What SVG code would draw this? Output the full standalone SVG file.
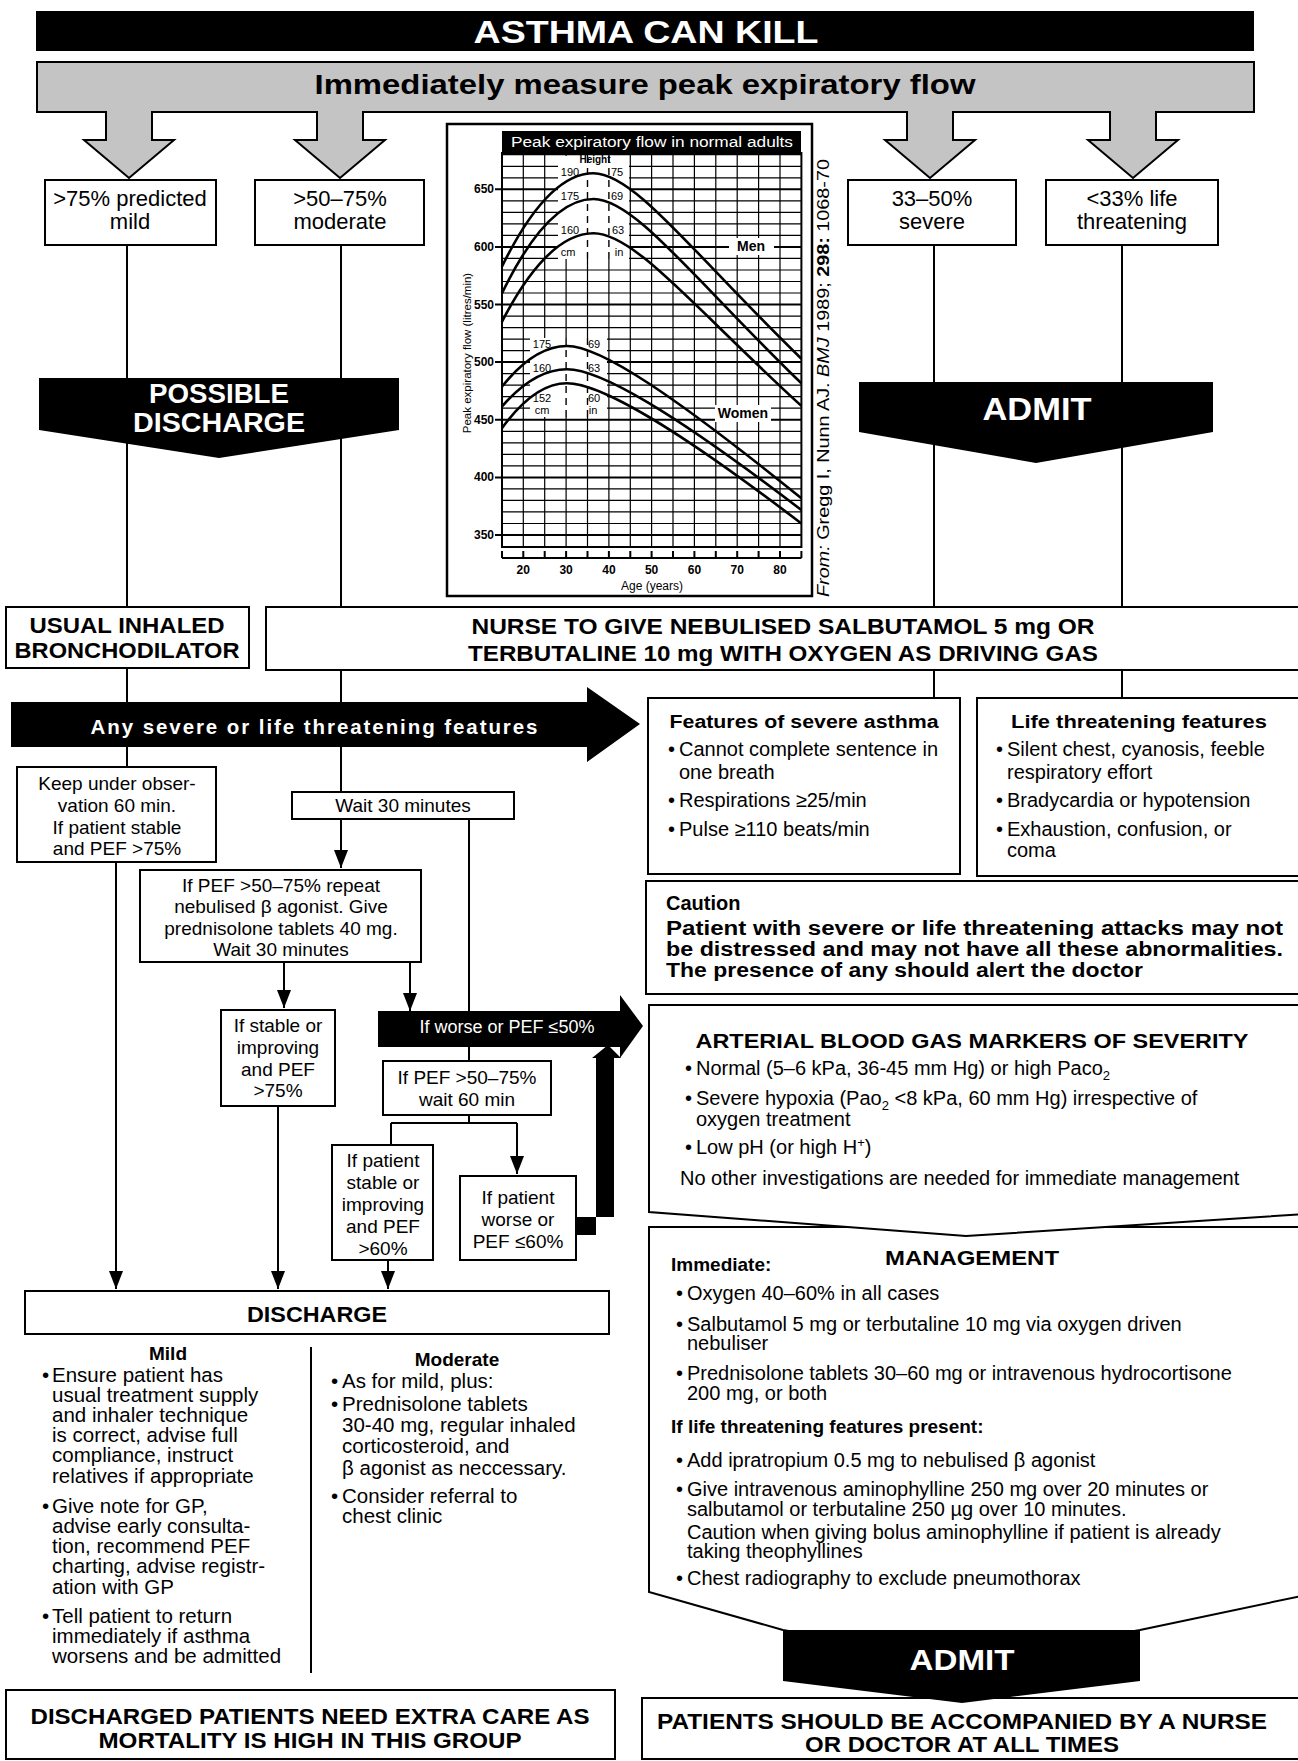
<svg xmlns="http://www.w3.org/2000/svg" width="1298" height="1761" viewBox="0 0 1298 1761">
<defs>
<style>
text{font-family:"Liberation Sans",Arial,sans-serif;fill:#000}
.t{font-size:19px}
.r{font-size:20px}
.d{font-size:20.5px}
.c{text-anchor:middle}
.b{font-weight:bold}
.w{fill:#fff}
.box{fill:#fff;stroke:#000;stroke-width:2}
.blk{fill:#000;stroke:none}
.ln{stroke:#000;stroke-width:2;fill:none}
.g1{stroke:#000;stroke-width:1.2;fill:none}
.g2{stroke:#000;stroke-width:2;fill:none}
.cv{stroke:#000;stroke-width:2.6;fill:none}
.ck{font-size:11px}
.ax{font-size:12px;font-weight:bold}
.hd{font-size:22px;font-weight:bold}
</style>
<marker id="ah" viewBox="0 0 18 14" refX="18" refY="7" markerWidth="18" markerHeight="14" markerUnits="userSpaceOnUse" orient="auto"><path d="M0,0 L18,7 L0,14 z" fill="#000"/></marker>
</defs>
<rect width="1298" height="1761" fill="#fff"/>

<g id="connectors">
<path class="ln" d="M127 245V607M341 245V607M934 245V607M1122 245V607"/>
<path class="ln" d="M127 668V702M341 670V702M934 670V698M1122 670V698"/>
<path class="ln" d="M127 747V767M341 747V792"/>
<path class="ln" d="M116 862V1289" marker-end="url(#ah)"/>
<path class="ln" d="M341 819V868" marker-end="url(#ah)"/>
<path class="ln" d="M469 819V1011"/>
<path class="ln" d="M284 962V1008" marker-end="url(#ah)"/>
<path class="ln" d="M410 962V1011" marker-end="url(#ah)"/>
<path class="ln" d="M469 1046V1061"/>
<path class="ln" d="M278 1106V1289" marker-end="url(#ah)"/>
<path class="ln" d="M469 1115V1123M391 1123H517M391 1123V1145"/>
<path class="ln" d="M517 1123V1174" marker-end="url(#ah)"/>
<path class="ln" d="M388 1260V1289" marker-end="url(#ah)"/>
<path class="blk" d="M576 1217H614V1058H621L608 1045L592 1058H596V1235H576Z"/>
</g>

<g id="title">
<rect x="36" y="11" width="1218" height="40" fill="#000"/>
<text x="646" y="43" class="c b w" font-size="32" textLength="345" lengthAdjust="spacingAndGlyphs">ASTHMA CAN KILL</text>
</g>

<g id="measure">
<path d="M37 62H1254V112H1156V140H1178L1133 178L1088 140H1110V112H953V140H975L930 178L885 140H907V112H363V140H385L340 178L295 140H317V112H152V140H174L129 178L84 140H106V112H37Z" fill="#c4c4c4" stroke="#000" stroke-width="2"/>
<text x="645" y="94" class="c b" font-size="28" fill="#111" textLength="661" lengthAdjust="spacingAndGlyphs">Immediately measure peak expiratory flow</text>
</g>

<g id="mild">
<rect class="box" x="45" y="180" width="171" height="65"/>
<text x="130" y="206" class="c" font-size="22">&gt;75% predicted</text>
<text x="130" y="229" class="c" font-size="22">mild</text>
</g>
<g id="moderate">
<rect class="box" x="255" y="180" width="169" height="65"/>
<text x="340" y="206" class="c" font-size="22">&gt;50–75%</text>
<text x="340" y="229" class="c" font-size="22">moderate</text>
</g>
<g id="severe">
<rect class="box" x="848" y="180" width="168" height="65"/>
<text x="932" y="206" class="c" font-size="22">33–50%</text>
<text x="932" y="229" class="c" font-size="22">severe</text>
</g>
<g id="life">
<rect class="box" x="1046" y="180" width="172" height="65"/>
<text x="1132" y="206" class="c" font-size="22">&lt;33% life</text>
<text x="1132" y="229" class="c" font-size="22">threatening</text>
</g>

<g id="possible-discharge">
<path class="blk" d="M39 378H399V430L219 458L39 430Z"/>
<text x="219" y="403" class="c b w" font-size="27" textLength="140" lengthAdjust="spacingAndGlyphs">POSSIBLE</text>
<text x="219" y="432" class="c b w" font-size="27" textLength="172" lengthAdjust="spacingAndGlyphs">DISCHARGE</text>
</g>

<g id="admit-top">
<path class="blk" d="M859 382H1213V432L1036 463L859 432Z"/>
<text x="1037" y="420" class="c b w" font-size="31" textLength="109" lengthAdjust="spacingAndGlyphs">ADMIT</text>
</g>

<g id="chart">
<rect x="447" y="124" width="365" height="472" fill="#fff" stroke="#000" stroke-width="2.5"/>
<rect x="502" y="131" width="299" height="22" fill="#000"/>
<text x="652" y="147" class="c w" font-size="15.5" textLength="282" lengthAdjust="spacingAndGlyphs">Peak expiratory flow in normal adults</text>
<path class="g1" d="M523.3 153V547M544.7 153V547M566.1 153V547M587.5 153V547M608.9 153V547M630.3 153V547M651.6 153V547M673 153V547M694.4 153V547M715.8 153V547M737.2 153V547M758.6 153V547M780 153V547"/>
<path class="g1" d="M502 154.7H801.4M502 166.3H801.4M502 177.8H801.4M502 200.8H801.4M502 212.3H801.4M502 223.9H801.4M502 235.4H801.4M502 258.4H801.4M502 270H801.4M502 281.5H801.4M502 293H801.4M502 316.1H801.4M502 327.6H801.4M502 339.1H801.4M502 350.6H801.4M502 373.7H801.4M502 385.2H801.4M502 396.7H801.4M502 408.2H801.4M502 431.3H801.4M502 442.8H801.4M502 454.3H801.4M502 465.9H801.4M502 488.9H801.4M502 500.4H801.4M502 511.9H801.4M502 523.5H801.4"/>
<path class="g2" d="M495 189.3H801.4M495 246.9H801.4M495 304.5H801.4M495 362.1H801.4M495 419.8H801.4M495 477.4H801.4M495 535H801.4"/>
<rect x="502" y="153" width="299.4" height="394" fill="none" stroke="#000" stroke-width="2"/>
<rect x="558" y="156" width="71" height="103" fill="#fff"/>
<rect x="530" y="338" width="77" height="79" fill="#fff"/>
<rect x="729" y="238" width="45" height="17" fill="#fff"/>
<rect x="715" y="405" width="56" height="17" fill="#fff"/>
<path d="M587.5 156V259M608.9 156V259M566.1 338V417M587.5 338V417" stroke="#000" stroke-width="1.4" stroke-dasharray="7 5" fill="none"/>
<path class="cv" d="M501.9 266.7Q547.7 173.2 593.5 173.2C634.5 173.2 694.4 255 801.4 358.7"/>
<path class="cv" d="M501.9 293.4Q547.7 199 593.5 199C634.5 199 694.4 279.6 801.4 383.3"/>
<path class="cv" d="M501.9 321.8Q547.7 233.3 593.5 233.3C634.5 233.3 694.4 308 801.4 405.9"/>
<path class="cv" d="M501.9 386.7Q534.4 346 566.9 346C600.3 346 673 394.6 801.4 498.3"/>
<path class="cv" d="M501.9 406.6Q534.4 369.3 566.9 369.3C600.3 369.3 673 412 801.4 510"/>
<path class="cv" d="M501.9 428.3Q534.4 383.2 566.9 383.2C600.3 383.2 673 425.5 801.4 523.5"/>
<text x="595" y="163" class="c b" font-size="10">Height</text>
<text x="570" y="176" class="c ck">190</text><text x="617" y="176" class="c ck">75</text>
<text x="570" y="200" class="c ck">175</text><text x="617" y="200" class="c ck">69</text>
<text x="570" y="234" class="c ck">160</text><text x="618" y="234" class="c ck">63</text>
<text x="568" y="256" class="c ck">cm</text><text x="619" y="256" class="c ck">in</text>
<text x="751" y="251" class="c b" font-size="14">Men</text>
<text x="542" y="348" class="c ck">175</text><text x="594" y="348" class="c ck">69</text>
<text x="542" y="372" class="c ck">160</text><text x="594" y="372" class="c ck">63</text>
<text x="542" y="402" class="c ck">152</text><text x="594" y="402" class="c ck">60</text>
<text x="542" y="414" class="c ck">cm</text><text x="593" y="414" class="c ck">in</text>
<text x="743" y="418" class="c b" font-size="14">Women</text>
<g text-anchor="end">
<text x="494" y="193" class="ax">650</text><text x="494" y="251" class="ax">600</text><text x="494" y="309" class="ax">550</text><text x="494" y="366" class="ax">500</text><text x="494" y="424" class="ax">450</text><text x="494" y="481" class="ax">400</text><text x="494" y="539" class="ax">350</text>
</g>
<path class="ln" d="M502 558H801.4M502 551V558M523.3 551V558M544.7 551V558M566.1 551V558M587.5 551V558M608.9 551V558M630.3 551V558M651.6 551V558M673 551V558M694.4 551V558M715.8 551V558M737.2 551V558M758.6 551V558M780 551V558M801.4 551V558" stroke-width="1.6"/>
<text x="523.3" y="574" class="c ax">20</text><text x="566.1" y="574" class="c ax">30</text><text x="608.9" y="574" class="c ax">40</text><text x="651.6" y="574" class="c ax">50</text><text x="694.4" y="574" class="c ax">60</text><text x="737.2" y="574" class="c ax">70</text><text x="780" y="574" class="c ax">80</text>
<text x="652" y="590" class="c" font-size="12">Age (years)</text>
<text transform="translate(471,353) rotate(-90)" class="c" font-size="11.5">Peak expiratory flow (litres/min)</text>
<text transform="translate(829,597) rotate(-90)" font-size="17" textLength="438" lengthAdjust="spacingAndGlyphs"><tspan font-style="italic">From:</tspan> Gregg I, Nunn AJ. <tspan font-style="italic">BMJ</tspan> 1989; <tspan font-weight="bold">298:</tspan> 1068-70</text>
</g>

<g id="usual-inhaled">
<rect class="box" x="6" y="607" width="243" height="61"/>
<text x="127" y="633" class="c hd" textLength="195" lengthAdjust="spacingAndGlyphs">USUAL INHALED</text>
<text x="127" y="658" class="c hd" textLength="225" lengthAdjust="spacingAndGlyphs">BRONCHODILATOR</text>
</g>

<g id="nurse">
<rect class="box" x="266" y="607" width="1040" height="63"/>
<text x="783" y="634" class="c hd" textLength="623" lengthAdjust="spacingAndGlyphs">NURSE TO GIVE NEBULISED SALBUTAMOL  5 mg  OR</text>
<text x="783" y="661" class="c hd" textLength="630" lengthAdjust="spacingAndGlyphs">TERBUTALINE 10 mg WITH OXYGEN AS DRIVING GAS</text>
</g>

<g id="any-severe">
<path class="blk" d="M11 702H587V687L640 724L587 762V747H11Z"/>
<text x="314" y="734" class="c b w" font-size="20.5" textLength="447" lengthAdjust="spacing">Any severe or life threatening features</text>
</g>

<g id="keep-observation">
<rect class="box" x="17" y="767" width="199" height="95"/>
<text x="117" y="790" class="c t">Keep under obser-</text>
<text x="117" y="812" class="c t">vation 60 min.</text>
<text x="117" y="834" class="c t">If patient stable</text>
<text x="117" y="855" class="c t">and PEF &gt;75%</text>
</g>

<g id="wait30">
<rect class="box" x="292" y="792" width="222" height="27"/>
<text x="403" y="812" class="c t">Wait 30 minutes</text>
</g>

<g id="repeat-neb">
<rect class="box" x="140" y="870" width="281" height="92"/>
<text x="281" y="892" class="c t">If PEF &gt;50–75% repeat</text>
<text x="281" y="913" class="c t">nebulised β agonist. Give</text>
<text x="281" y="935" class="c t">prednisolone tablets 40 mg.</text>
<text x="281" y="956" class="c t">Wait 30 minutes</text>
</g>

<g id="stable75">
<rect class="box" x="221" y="1010" width="114" height="96"/>
<text x="278" y="1032" class="c t">If stable or</text>
<text x="278" y="1054" class="c t">improving</text>
<text x="278" y="1076" class="c t">and PEF</text>
<text x="278" y="1097" class="c t">&gt;75%</text>
</g>

<g id="worse50">
<path class="blk" d="M378 1011H620V995L643 1026L620 1058V1047H378Z"/>
<text x="507" y="1033" class="c w" font-size="18">If worse or PEF ≤50%</text>
</g>

<g id="wait60">
<rect class="box" x="383" y="1061" width="168" height="54"/>
<text x="467" y="1084" class="c t">If PEF &gt;50–75%</text>
<text x="467" y="1106" class="c t">wait 60 min</text>
</g>

<g id="stable60">
<rect class="box" x="332" y="1145" width="101" height="115"/>
<text x="383" y="1167" class="c t">If patient</text>
<text x="383" y="1189" class="c t">stable or</text>
<text x="383" y="1211" class="c t">improving</text>
<text x="383" y="1233" class="c t">and PEF</text>
<text x="383" y="1255" class="c t">&gt;60%</text>
</g>

<g id="worse60">
<rect class="box" x="460" y="1176" width="116" height="84"/>
<text x="518" y="1204" class="c t">If patient</text>
<text x="518" y="1226" class="c t">worse or</text>
<text x="518" y="1248" class="c t">PEF ≤60%</text>
</g>

<g id="discharge">
<rect class="box" x="25" y="1291" width="584" height="43"/>
<text x="317" y="1322" class="c hd" textLength="140" lengthAdjust="spacingAndGlyphs">DISCHARGE</text>
<path class="ln" d="M311 1347V1673"/>
<text x="168" y="1360" class="c b" font-size="19">Mild</text>
<g class="d">
<text x="42" y="1382">•</text><text x="52" y="1382">Ensure patient has</text>
<text x="52" y="1402">usual treatment supply</text>
<text x="52" y="1422">and inhaler technique</text>
<text x="52" y="1442">is correct, advise full</text>
<text x="52" y="1462">compliance, instruct</text>
<text x="52" y="1483">relatives if appropriate</text>
<text x="42" y="1513">•</text><text x="52" y="1513">Give note for GP,</text>
<text x="52" y="1533">advise early consulta-</text>
<text x="52" y="1553">tion, recommend PEF</text>
<text x="52" y="1573">charting, advise registr-</text>
<text x="52" y="1594">ation with GP</text>
<text x="42" y="1623">•</text><text x="52" y="1623">Tell patient to return</text>
<text x="52" y="1643">immediately if asthma</text>
<text x="52" y="1663">worsens and be admitted</text>
</g>
<text x="457" y="1366" class="c b" font-size="19">Moderate</text>
<g class="d">
<text x="331" y="1388">•</text><text x="342" y="1388">As for mild, plus:</text>
<text x="331" y="1411">•</text><text x="342" y="1411">Prednisolone tablets</text>
<text x="342" y="1432">30-40 mg, regular inhaled</text>
<text x="342" y="1453">corticosteroid, and</text>
<text x="342" y="1475">β agonist as neccessary.</text>
<text x="331" y="1503">•</text><text x="342" y="1503">Consider referral to</text>
<text x="342" y="1523">chest clinic</text>
</g>
</g>

<g id="discharged-care">
<rect class="box" x="6" y="1690" width="609" height="69"/>
<text x="310" y="1724" class="c hd" textLength="559" lengthAdjust="spacingAndGlyphs">DISCHARGED PATIENTS NEED EXTRA CARE AS</text>
<text x="310" y="1748" class="c hd" textLength="423" lengthAdjust="spacingAndGlyphs">MORTALITY IS HIGH IN THIS GROUP</text>
</g>

<g id="severe-features">
<rect class="box" x="648" y="698" width="312" height="176"/>
<text x="804" y="728" class="c b" font-size="18" textLength="269" lengthAdjust="spacingAndGlyphs">Features of severe asthma</text>
<g class="r">
<text x="668" y="756">•</text><text x="679" y="756">Cannot complete sentence in</text>
<text x="679" y="779">one breath</text>
<text x="668" y="807">•</text><text x="679" y="807">Respirations ≥25/min</text>
<text x="668" y="836">•</text><text x="679" y="836">Pulse ≥110 beats/min</text>
</g>
</g>

<g id="life-features">
<rect class="box" x="977" y="698" width="330" height="178"/>
<text x="1139" y="728" class="c b" font-size="18" textLength="256" lengthAdjust="spacingAndGlyphs">Life threatening features</text>
<g class="r">
<text x="996" y="756">•</text><text x="1007" y="756">Silent chest, cyanosis, feeble</text>
<text x="1007" y="779">respiratory effort</text>
<text x="996" y="807">•</text><text x="1007" y="807">Bradycardia or hypotension</text>
<text x="996" y="836">•</text><text x="1007" y="836">Exhaustion, confusion, or</text>
<text x="1007" y="857">coma</text>
</g>
</g>

<g id="caution">
<rect class="box" x="646" y="881" width="660" height="113"/>
<text x="666" y="910" class="b" font-size="20">Caution</text>
<text x="666" y="935" class="b" font-size="20" textLength="617" lengthAdjust="spacingAndGlyphs">Patient with severe or life threatening attacks may not</text>
<text x="666" y="956" class="b" font-size="20" textLength="617" lengthAdjust="spacingAndGlyphs">be distressed and may not have all these abnormalities.</text>
<text x="666" y="977" class="b" font-size="20" textLength="477" lengthAdjust="spacingAndGlyphs">The presence of any should alert the doctor</text>
</g>

<g id="management">
<path d="M649 1227H1306V1595L1140 1630L962 1662L783 1630L649 1592Z" fill="#fff" stroke="#000" stroke-width="2"/>
<text x="972" y="1265" class="c b" font-size="21" textLength="174" lengthAdjust="spacingAndGlyphs">MANAGEMENT</text>
<text x="671" y="1271" class="b" font-size="19">Immediate:</text>
<g class="r">
<text x="676" y="1300">•</text><text x="687" y="1300">Oxygen 40–60% in all cases</text>
<text x="676" y="1331">•</text><text x="687" y="1331">Salbutamol 5 mg or terbutaline 10 mg via oxygen driven</text>
<text x="687" y="1350">nebuliser</text>
<text x="676" y="1380">•</text><text x="687" y="1380">Prednisolone tablets 30–60 mg or intravenous hydrocortisone</text>
<text x="687" y="1400">200 mg, or both</text>
</g>
<text x="671" y="1433" class="b" font-size="19">If life threatening features present:</text>
<g class="r">
<text x="676" y="1467">•</text><text x="687" y="1467">Add ipratropium 0.5 mg to nebulised β agonist</text>
<text x="676" y="1496">•</text><text x="687" y="1496">Give intravenous aminophylline 250 mg over 20 minutes or</text>
<text x="687" y="1516">salbutamol or terbutaline 250 µg over 10 minutes.</text>
<text x="687" y="1539">Caution when giving bolus aminophylline if patient is already</text>
<text x="687" y="1558">taking theophyllines</text>
<text x="676" y="1585">•</text><text x="687" y="1585">Chest radiography to exclude pneumothorax</text>
</g>
</g>

<g id="blood-gas">
<path d="M649 1005H1306V1214L966 1236L649 1212Z" fill="#fff" stroke="#000" stroke-width="2"/>
<text x="972" y="1048" class="b" text-anchor="middle" font-size="21" textLength="553" lengthAdjust="spacingAndGlyphs">ARTERIAL BLOOD GAS MARKERS OF SEVERITY</text>
<g class="r">
<text x="685" y="1075">•</text><text x="696" y="1075">Normal (5–6 kPa, 36-45 mm Hg) or high Paco<tspan dy="5" font-size="13">2</tspan></text>
<text x="685" y="1105">•</text><text x="696" y="1105">Severe hypoxia (Pao<tspan dy="5" font-size="13">2</tspan><tspan dy="-5"> &lt;8 kPa, 60 mm Hg) irrespective of</tspan></text>
<text x="696" y="1126">oxygen treatment</text>
<text x="685" y="1154">•</text><text x="696" y="1154">Low pH (or high H<tspan dy="-7" font-size="13">+</tspan><tspan dy="7">)</tspan></text>
<text x="680" y="1185">No other investigations are needed for immediate management</text>
</g>
</g>

<g id="patients-accompanied">
<rect class="box" x="642" y="1698" width="664" height="61"/>
<text x="962" y="1729" class="c hd" textLength="610" lengthAdjust="spacingAndGlyphs">PATIENTS SHOULD BE ACCOMPANIED BY A NURSE</text>
<text x="962" y="1752" class="c hd" textLength="314" lengthAdjust="spacingAndGlyphs">OR DOCTOR AT ALL TIMES</text>
</g>

<g id="admit-bottom">
<path class="blk" d="M783 1630H1140V1681L962 1703L783 1681Z"/>
<text x="962" y="1670" class="c b w" font-size="30" textLength="105" lengthAdjust="spacingAndGlyphs">ADMIT</text>
</g>
</svg>
